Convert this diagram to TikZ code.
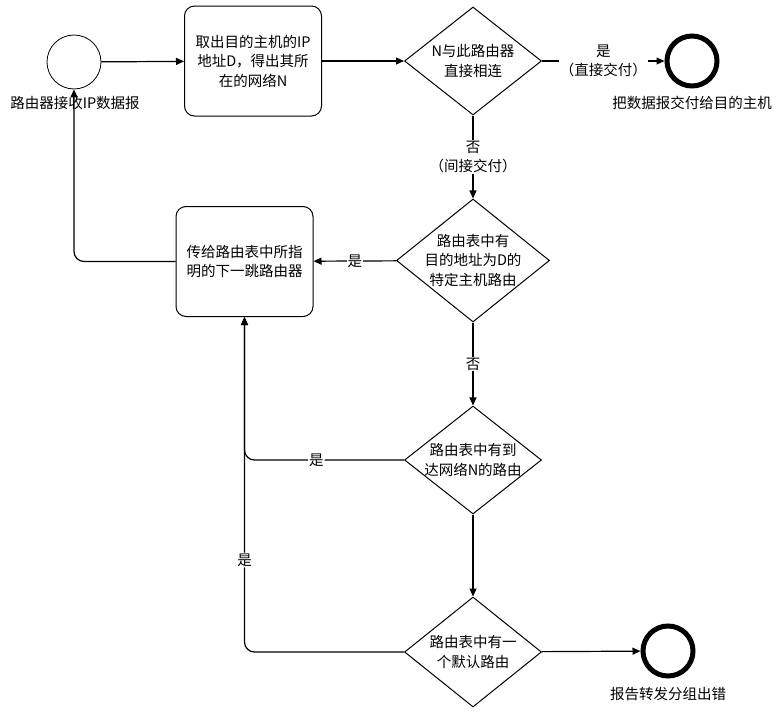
\documentclass[tikz,border=0pt]{standalone}
\usepackage{fontspec}
\setmainfont{Noto Sans CJK SC}
\usetikzlibrary{shapes.geometric,arrows.meta}

\begin{document}
\begin{tikzpicture}[x=1pt,y=-1pt,
                    every node/.style = {font=\fontsize{14.5}{19.5}\selectfont},
                    arrow/.style = {line width=1.2pt,-{Triangle[length=8pt,width=7pt]}},
                    block/.style = {draw,line width=1pt,rounded corners=10pt,minimum width=137pt,minimum height=110pt,align=center,inner sep=0pt},
                    test/.style = {draw,diamond,line width=1pt,minimum width=137pt,minimum height=108pt,inner sep=0pt},
                    endpoint/.style = {draw,circle,line width=5pt,minimum size=50pt,inner sep=0pt},
                    answer/.style = {fill=white,inner sep=1pt,align=center}]
                    \useasboundingbox (0,0) rectangle (782,712);

                    \node[draw,circle,line width=0.8pt,minimum size=54pt,inner sep=0pt] (start) at (74,62) {};
                    \node[block] (getn) at (253,61) {取出目的主机的IP\\地址D，得出其所\\在的网络N};
                    \node[test,label={[align=center]center:N与此路由器\\直接相连}] (direct) at (473,61) {};
                    \node[endpoint] (deliver) at (692,61) {};
                    \node (deliverlbl) at (692,103) {把数据报交付给目的主机};
                    \node[test,minimum width=153pt,minimum height=123pt,label={[align=center]center:路由表中有\\目的地址为D的\\特定主机路由}] (host) at (473,260.5) {};
                    \node[block] (nexthop) at (244.5,261.5) {传给路由表中所指\\明的下一跳路由器};
                    \node[test,label={[align=center]center:路由表中有到\\达网络N的路由}] (net) at (473,460) {};
                    \node[test,minimum height=110pt,label={[align=center]center:路由表中有一\\个默认路由}] (default) at (473,652) {};
                    \node[endpoint] (fail) at (668,651) {};
                    \node (faillbl) at (668,694) {报告转发分组出错};

                    \draw[arrow] (start) -- (getn);
                    \draw[arrow] (getn) -- (direct);
                    \draw[arrow] (direct) -- node[answer] {是\\（直接交付）} (deliver);
                    \draw[arrow] (direct) -- node[answer] {否\\（间接交付）} (host);
                    \draw[arrow] (host) -- node[answer] {是} (nexthop);
                    \draw[arrow] (host) -- node[answer] {否} (net);
                    \draw[arrow] (net) -- (default);
                    \draw[arrow] (default) -- (fail);
                    \draw[arrow,rounded corners=10pt] (net.west) -| node[answer,pos=0.275] {是} (nexthop.south);
                    \draw[arrow,rounded corners=10pt] (default.west) -| node[answer,pos=0.6375] {是} (nexthop.south);
                    \draw[arrow,rounded corners=10pt] (nexthop.west) -| (start.south);

                    \node (startlbl) at (75,103) {路由器接收IP数据报};
                \end{tikzpicture}
\end{document}
